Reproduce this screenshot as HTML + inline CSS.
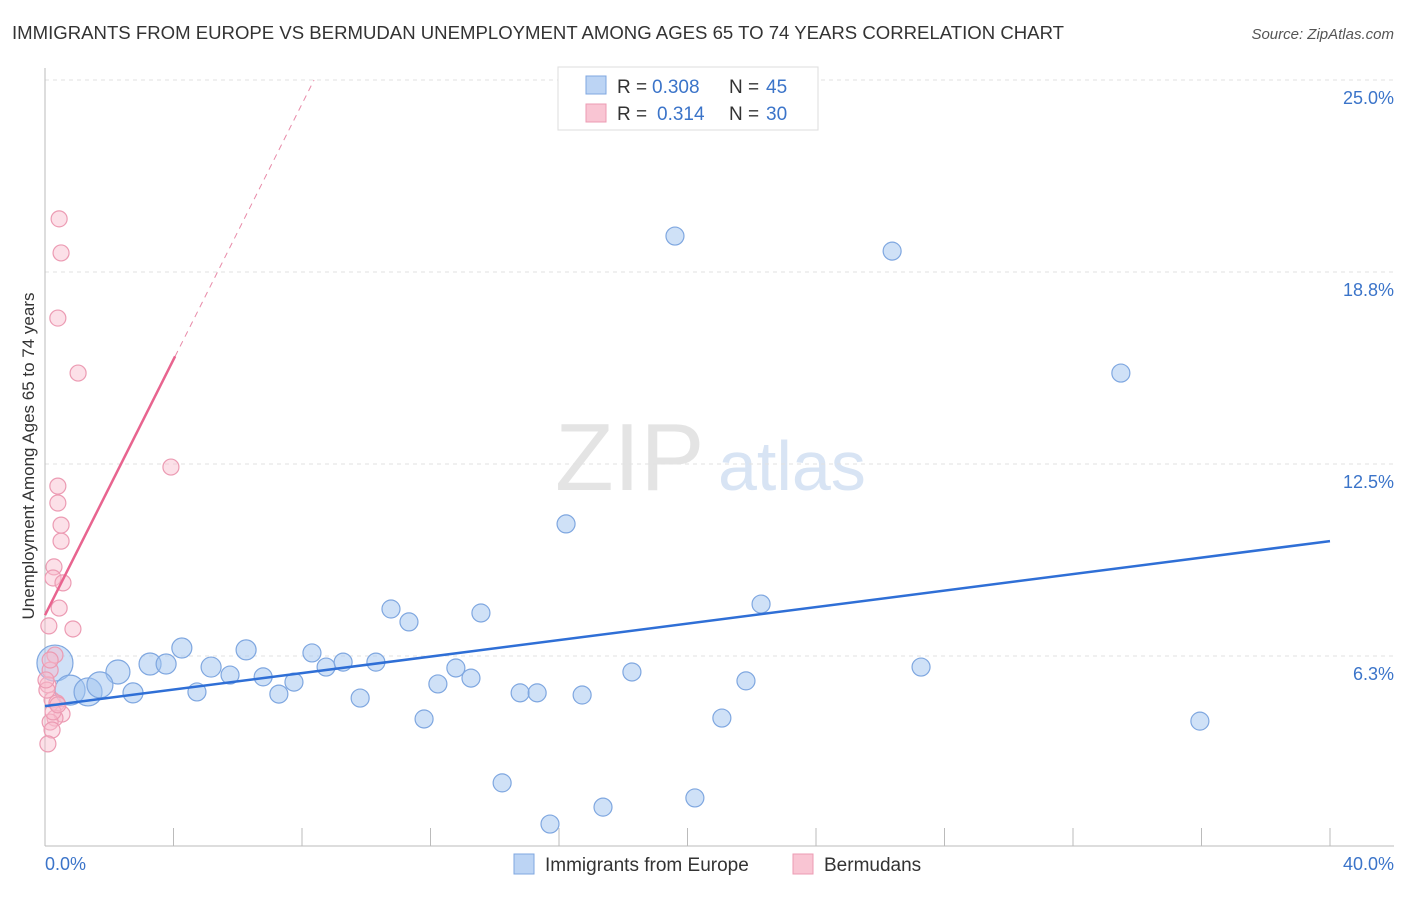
<!DOCTYPE html>
<html><head><meta charset="utf-8"><style>
body{margin:0;background:#fff;font-family:"Liberation Sans",sans-serif}
svg text{font-family:"Liberation Sans",sans-serif}
</style></head><body>
<svg id="chart" width="1406" height="892" viewBox="0 0 1406 892">
<text x="12" y="39" font-size="18" fill="#333" textLength="1052" lengthAdjust="spacingAndGlyphs">IMMIGRANTS FROM EUROPE VS BERMUDAN UNEMPLOYMENT AMONG AGES 65 TO 74 YEARS CORRELATION CHART</text>
<text x="1394" y="39" font-size="15" fill="#555" text-anchor="end" font-style="italic">Source: ZipAtlas.com</text>
<text x="555" y="490" font-size="96" fill="#e4e4e4" font-family="Liberation Serif">ZIP</text>
<text x="718" y="490" font-size="70" fill="#d8e4f4">atlas</text>
<g id="grid"></g>
<g id="axes"></g>
<g id="marks"></g>
<text transform="translate(34,456) rotate(-90)" font-size="17" fill="#333" text-anchor="middle">Unemployment Among Ages 65 to 74 years</text>
<text x="45" y="870" font-size="18" fill="#3b74c9">0.0%</text>
<text x="1394" y="870" font-size="18" fill="#3b74c9" text-anchor="end">40.0%</text>
<g>
<rect x="558" y="67" width="260" height="63" fill="#fff" stroke="#ddd"/>
<rect x="586" y="76" width="20" height="18" fill="#bcd4f4" stroke="#7fa7e0"/>
<rect x="586" y="104" width="20" height="18" fill="#f9c5d3" stroke="#ec9bb3"/>
<text x="617" y="93" font-size="19" fill="#333">R =</text>
<text x="652" y="93" font-size="19" fill="#3b74c9">0.308</text>
<text x="729" y="93" font-size="19" fill="#333">N =</text>
<text x="766" y="93" font-size="19" fill="#3b74c9">45</text>
<text x="617" y="120" font-size="19" fill="#333">R =</text>
<text x="657" y="120" font-size="19" fill="#3b74c9">0.314</text>
<text x="729" y="120" font-size="19" fill="#333">N =</text>
<text x="766" y="120" font-size="19" fill="#3b74c9">30</text>
</g>
<g>
<rect x="514" y="854" width="20" height="20" fill="#bcd4f4" stroke="#7fa7e0"/>
<text x="545" y="871" font-size="19" fill="#333">Immigrants from Europe</text>
<rect x="793" y="854" width="20" height="20" fill="#f9c5d3" stroke="#ec9bb3"/>
<text x="824" y="871" font-size="19" fill="#333">Bermudans</text>
</g>
</svg>
<script>
const yTicks=[6.25,12.5,18.75,25];
const yTickLabels=["6.3%","12.5%","18.8%","25.0%"];
const xTicks=[0,4,8,12,16,20,24,28,32,36,40];
const blueX=[19.61,26.37,33.49,16.22,22.29,10.77,11.33,13.57,4.26,6.26,8.31,2.27,3.27,3.77,5.17,5.76,6.79,7.75,8.75,9.28,10.30,12.79,13.26,12.23,18.27,27.27,21.82,4.73,2.74,7.28,9.81,14.79,15.32,16.72,11.80,21.07,35.95,14.23,17.37,20.23,15.72,0.31,0.78,1.34,1.71];
const blueY=[19.92,19.43,15.46,10.55,7.94,7.78,7.36,7.65,6.51,6.45,6.35,5.73,5.99,5.99,5.89,5.63,5.57,5.40,5.89,6.05,6.05,5.86,5.53,5.34,5.73,5.89,5.44,5.08,5.05,5.01,4.88,5.05,5.05,4.98,4.20,4.23,4.13,2.12,1.33,1.63,0.78,6.02,5.14,5.08,5.31];
const blueR=[9,9,9,9,9,9,9,9,10,10,9,12,11,10,10,9,9,9,9,9,9,9,9,9,9,9,9,9,10,9,9,9,9,9,9,9,9,9,9,9,9,18,15,14,13];
const pinkX=[0.44,0.50,0.40,1.03,3.92,0.40,0.40,0.50,0.50,0.28,0.25,0.56,0.44,0.87,0.12,0.31,0.16,0.09,0.22,0.37,0.53,0.31,0.16,0.22,0.09,0.16,0.06,0.25,0.40,0.03];
const pinkY=[20.48,19.37,17.25,15.46,12.40,11.78,11.23,10.51,9.99,9.15,8.79,8.63,7.81,7.13,7.23,6.28,5.79,5.31,4.82,4.72,4.36,4.23,4.10,3.84,3.39,6.12,5.14,4.43,4.66,5.47];
const blueTrend=[4.62,9.99];
const pinkTrend=[7.58,2.08];
const X=v=>45+v*32.125, Y=v=>848-v*30.72;
const NS="http://www.w3.org/2000/svg";
function mk(t,a,p){const e=document.createElementNS(NS,t);for(const k in a)e.setAttribute(k,a[k]);p.appendChild(e);return e;}
const grid=document.getElementById('grid'),axes=document.getElementById('axes'),marks=document.getElementById('marks');
yTicks.forEach((t,i)=>{
 const l=mk('line',{x1:45,x2:1394,y1:Y(t),y2:Y(t),stroke:'#e2e2e2','stroke-dasharray':'4,4'},grid);
 
 
 const tx=mk('text',{x:1394,y:Y(t)+24,'font-size':18,fill:'#3b74c9','text-anchor':'end'},grid);
 tx.textContent=yTickLabels[i];
 
 
});
const ya=mk('line',{x1:45,x2:45,y1:68,y2:846,stroke:'#bbb'},axes);


const xa=mk('line',{x1:45,x2:1394,y1:846,y2:846,stroke:'#bbb'},axes);


xTicks.forEach(t=>{const l=mk('line',{x1:X(t),x2:X(t),y1:828,y2:846,stroke:'#bbb'},axes);
 
 });
blueX.forEach((v,i)=>{const c=mk('circle',{cx:X(v),cy:Y(blueY[i]),r:blueR[i],fill:'rgba(160,196,240,0.5)',stroke:'#7fa7e0','stroke-width':1.2},marks);
 
 });
pinkX.forEach((v,i)=>{const c=mk('circle',{cx:X(v),cy:Y(pinkY[i]),r:8,fill:'rgba(248,186,204,0.45)',stroke:'#ec9bb3','stroke-width':1.2},marks);
 
 });
const bt=mk('line',{x1:X(0),y1:Y(blueTrend[0]),x2:X(40),y2:Y(blueTrend[1]),stroke:'#2f6fd6','stroke-width':2.5},marks);


const pe=(25-pinkTrend[0])/pinkTrend[1];
const pd=mk('line',{x1:X(4.05),y1:Y(pinkTrend[0]+pinkTrend[1]*4.05),x2:X(pe),y2:Y(25),stroke:'#e88aa8','stroke-width':1,'stroke-dasharray':'6,5'},marks);


const pt=mk('line',{x1:X(0),y1:Y(pinkTrend[0]),x2:X(4.05),y2:Y(pinkTrend[0]+pinkTrend[1]*4.05),stroke:'#e8648f','stroke-width':2.5},marks);


</script>
</body></html>
